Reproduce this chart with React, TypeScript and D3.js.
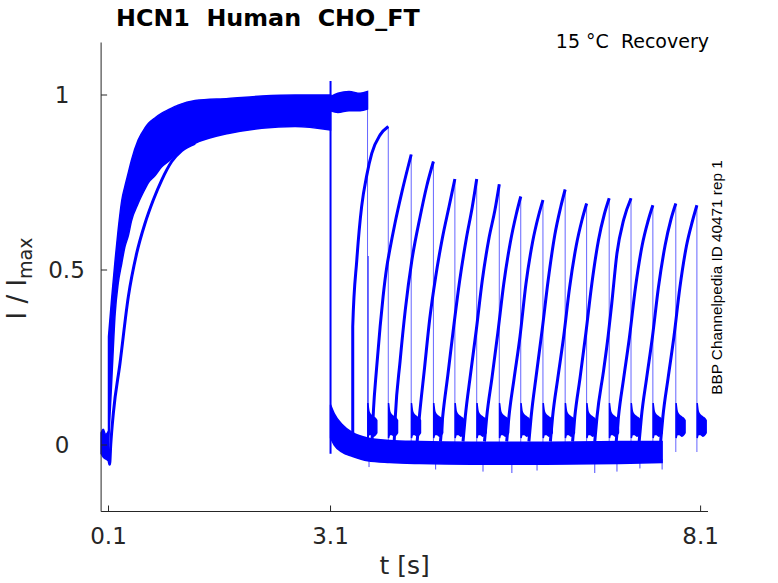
import React from 'react';
import * as d3 from 'd3';

// axis ticks
const xTicks = [0.1, 3.1, 8.1];
const yTicks = [0, 0.5, 1];

// holding current before the first step: [t, low, high]
const preStep = [
  [0.0, -0.025, 0.035],
  [0.03, -0.035, 0.045],
  [0.06, -0.04, 0.03],
  [0.1, -0.045, 0.04],
];

// envelope of the fast activating sweeps 0.1 - 3.1 s: [t, low, high]
const activationBand = [
  [0.1, 0.0, 0.31],
  [0.143, 0.18, 0.42],
  [0.19, 0.376, 0.53],
  [0.23, 0.46, 0.614],
  [0.28, 0.52, 0.7],
  [0.32, 0.565, 0.738],
  [0.37, 0.6, 0.78],
  [0.41, 0.64, 0.814],
  [0.5, 0.69, 0.871],
  [0.59, 0.73, 0.905],
  [0.64, 0.75, 0.919],
  [0.73, 0.77, 0.935],
  [0.82, 0.795, 0.948],
  [0.91, 0.81, 0.958],
  [1.04, 0.835, 0.971],
  [1.27, 0.862, 0.984],
  [1.72, 0.89, 0.99],
  [2.17, 0.905, 0.997],
  [2.62, 0.91, 1.0],
  [3.1, 0.9, 1.0],
];

// the one slower sweep: [t, value]
const slowActivation = [
  [0.1, -0.02],
  [0.115, -0.055],
  [0.13, 0.0],
  [0.165, 0.09],
  [0.255, 0.233],
  [0.368, 0.424],
  [0.481, 0.548],
  [0.593, 0.633],
  [0.705, 0.7],
  [0.819, 0.757],
  [0.954, 0.81],
  [1.089, 0.841],
  [1.269, 0.862],
];

// sweep with zero interval, stays activated: [t, low, high]
const holdBand = [
  [3.1, 0.955, 0.995],
  [3.2, 0.95, 1.005],
  [3.35, 0.955, 1.01],
  [3.5, 0.955, 1.005],
  [3.6, 0.96, 1.01],
];

// deactivated current between the pulses: [t, low, high]
const deactBand = [
  [3.1, 0.02, 0.115],
  [3.15, 0.0, 0.09],
  [3.25, -0.02, 0.06],
  [3.4, -0.033, 0.035],
  [3.6, -0.045, 0.02],
  [3.9, -0.05, 0.013],
  [4.3, -0.053, 0.01],
  [5.0, -0.055, 0.008],
  [6.0, -0.055, 0.008],
  [7.0, -0.053, 0.01],
  [7.58, -0.05, 0.01],
];

// second pulses, one per sweep: [t, value]
const recoveryTraces = [
  [[3.4, 0.01], [3.4, 0.338], [3.455, 0.529], [3.52, 0.681], [3.59, 0.771], [3.657, 0.833], [3.77, 0.886], [3.88, 0.91]],
  [[3.66, 0.01], [3.68, 0.1], [3.72, 0.214], [3.77, 0.338], [3.81, 0.424], [3.86, 0.509], [3.9, 0.557], [3.97, 0.633], [4.06, 0.719], [4.19, 0.83]],
  [[3.96, 0.01], [3.975, 0.08], [4.04, 0.24], [4.11, 0.386], [4.2, 0.529], [4.31, 0.652], [4.4, 0.74], [4.49, 0.81]],
  [[4.27, 0.01], [4.3, 0.08], [4.37, 0.22], [4.44, 0.36], [4.52, 0.48], [4.61, 0.59], [4.7, 0.68], [4.78, 0.76]],
  [[4.585, 0.01], [4.615, 0.08], [4.685, 0.2], [4.765, 0.34], [4.845, 0.47], [4.935, 0.59], [5.015, 0.68], [5.075, 0.76]],
  [[4.89, 0.01], [4.92, 0.08], [4.99, 0.2], [5.07, 0.33], [5.15, 0.47], [5.24, 0.59], [5.32, 0.67], [5.38, 0.745]],
  [[5.18, 0.01], [5.21, 0.08], [5.28, 0.19], [5.36, 0.32], [5.44, 0.46], [5.53, 0.58], [5.61, 0.66], [5.67, 0.71]],
  [[5.48, 0.01], [5.51, 0.08], [5.58, 0.19], [5.66, 0.31], [5.74, 0.46], [5.83, 0.58], [5.91, 0.655], [5.97, 0.7]],
  [[5.78, 0.01], [5.81, 0.08], [5.88, 0.2], [5.96, 0.33], [6.04, 0.47], [6.13, 0.6], [6.21, 0.68], [6.27, 0.73]],
  [[6.07, 0.01], [6.1, 0.08], [6.17, 0.19], [6.25, 0.31], [6.33, 0.45], [6.42, 0.57], [6.5, 0.645], [6.56, 0.69]],
  [[6.37, 0.01], [6.4, 0.08], [6.47, 0.19], [6.55, 0.32], [6.63, 0.46], [6.72, 0.585], [6.8, 0.66], [6.865, 0.705]],
  [[6.67, 0.01], [6.7, 0.08], [6.79, 0.214], [6.85, 0.31], [6.9, 0.405], [6.97, 0.548], [7.06, 0.643], [7.16, 0.705]],
  [[6.96, 0.01], [6.99, 0.08], [7.06, 0.19], [7.14, 0.31], [7.22, 0.45], [7.31, 0.57], [7.39, 0.64], [7.455, 0.685]],
  [[7.27, 0.01], [7.3, 0.08], [7.37, 0.19], [7.45, 0.31], [7.53, 0.45], [7.62, 0.57], [7.7, 0.645], [7.765, 0.69]],
  [[7.56, 0.01], [7.59, 0.08], [7.66, 0.19], [7.74, 0.31], [7.82, 0.45], [7.91, 0.57], [7.99, 0.64], [8.05, 0.685]],
];

// tail current after each pulse ends: [dt, low, high]
const tailShape = [
  [0.004, 0.02, 0.12],
  [0.02, 0.03, 0.095],
  [0.05, 0.03, 0.085],
  [0.08, 0.025, 0.08],
  [0.11, 0.03, 0.075],
  [0.125, 0.035, 0.07],
];

// capacitive spikes: [t, from, to]
const spikes = [
  [3.1, 0.99, 1.04],
  [3.1, 1.0, -0.025],
  [3.61, 0.02, 0.54],
  [3.62, -0.04, -0.063],
  [4.52, -0.04, -0.07],
  [5.16, -0.04, -0.076],
  [5.55, -0.04, -0.08],
  [5.89, -0.04, -0.073],
  [6.67, -0.04, -0.08],
  [6.97, -0.04, -0.076],
  [7.28, -0.04, -0.067],
  [7.58, -0.04, -0.07],
];

const W = 778;
const H = 583;
const BLUE = '#0000ff';
const INK = '#262626';

const x = d3.scaleLinear().domain([0, 8.2]).range([101.1, 708]);
const y = d3.scaleLinear().domain([-0.19, 1.15]).range([511.5, 42.5]);

const band = d3.area<number[]>()
  .x(d => x(d[0]))
  .y0(d => y(d[1]))
  .y1(d => y(d[2]))
  .curve(d3.curveMonotoneX);

const trace = d3.line<number[]>()
  .x(d => x(d[0]))
  .y(d => y(d[1]))
  .curve(d3.curveMonotoneX);

export default function App() {
  // end of each second pulse: [t, value]
  const ends = [
    [holdBand[holdBand.length - 1][0], 0.99],
    ...recoveryTraces.map(tr => tr[tr.length - 1]),
  ];

  const bands = [preStep, activationBand, holdBand, deactBand];

  return (
    <div style={{ position: 'fixed', left: 0, top: 0 }}>
      <svg width={W} height={H} style={{ display: 'block', background: '#fff' }}>
        {/* traces */}
        <g>
          {bands.map((b, i) => (
            <path key={'b' + i} d={band(b) || ''} fill={BLUE} stroke={BLUE} strokeWidth={1.5} />
          ))}
          <path d={trace(slowActivation) || ''} fill="none" stroke={BLUE} strokeWidth={3} />
          {recoveryTraces.map((tr, i) => (
            <path key={'r' + i} d={trace(tr) || ''} fill="none" stroke={BLUE} strokeWidth={3} />
          ))}
          {ends.map((e, i) => (
            <g key={'e' + i}>
              <line x1={x(e[0])} x2={x(e[0])} y1={y(e[1])} y2={y(-0.02)}
                stroke={BLUE} strokeWidth={1} opacity={0.6} />
              <path d={band(tailShape.map(s => [e[0] + s[0], s[1], s[2]])) || ''}
                fill={BLUE} stroke={BLUE} strokeWidth={1.5} />
            </g>
          ))}
          {spikes.map((s, i) => (
            <line key={'s' + i} x1={x(s[0])} x2={x(s[0])} y1={y(s[1])} y2={y(s[2])}
              stroke={BLUE} strokeWidth={i < 2 ? 2 : 1} opacity={i < 2 ? 1 : 0.7} />
          ))}
        </g>

        {/* axes */}
        <g stroke={INK} strokeWidth={1} fill="none">
          <line x1={x(0)} x2={x(0)} y1={y(1.15)} y2={y(-0.19)} />
          <line x1={x(0)} x2={x(8.2)} y1={y(-0.19)} y2={y(-0.19)} />
          {xTicks.map(t => (
            <line key={'xt' + t} x1={x(t)} x2={x(t)} y1={y(-0.19)} y2={y(-0.19) - 6} />
          ))}
          {yTicks.map(t => (
            <line key={'yt' + t} x1={x(0)} x2={x(0) + 6} y1={y(t)} y2={y(t)} />
          ))}
        </g>
        <g fill={INK} fontFamily="DejaVu Sans" fontSize={23}>
          {xTicks.map(t => (
            <text key={'xl' + t} x={x(t)} y={544} textAnchor="middle">{d3.format('.1f')(t)}</text>
          ))}
          {yTicks.map(t => (
            <text key={'yl' + t} x={t === 0.5 ? 66.5 : 62} y={y(t) + 8.3} textAnchor="middle">{String(t)}</text>
          ))}
          <text x={(x(0) + x(8.2)) / 2} y={574} textAnchor="middle" fontSize={25}>t [s]</text>
          <text transform={`translate(25.5, ${278.5}) rotate(-90)`} textAnchor="middle" fontSize={26}>
            I / I<tspan fontSize={19} dy={6}>max</tspan>
          </text>
        </g>

        <text x={116} y={26} fontFamily="DejaVu Sans" fontWeight="bold" fontSize={23.8} fill="#000"
          style={{ whiteSpace: 'pre' }}>
          {'HCN1  Human  CHO_FT'}
        </text>
        <text x={709} y={48} textAnchor="end" fontFamily="DejaVu Sans" fontSize={19} fill="#000"
          style={{ whiteSpace: 'pre' }}>
          {'15 °C  Recovery'}
        </text>
        <text transform={`translate(722, ${277.5}) rotate(-90)`} textAnchor="middle"
          fontFamily="Liberation Sans" fontSize={15.3} fill="#000">
          BBP Channelpedia ID 40471 rep 1
        </text>
      </svg>
    </div>
  );
}
